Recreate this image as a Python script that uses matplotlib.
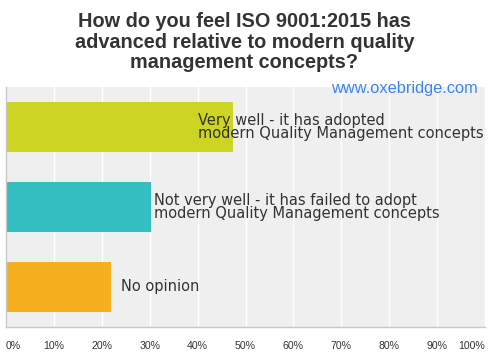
import matplotlib.pyplot as plt
import numpy as np

# Survey answers (top to bottom) and their share of responses (%)
answers = [
    'Very well - it has adopted\nmodern Quality Management concepts',
    'Not very well - it has failed to adopt\nmodern Quality Management concepts',
    'No opinion',
]
shares = [47.4, 30.2, 22.0]
colors = ['#cdd424', '#35bec1', '#f5ae1e']
tick_values = [0, 10, 20, 30, 40, 50, 60, 70, 80, 90, 100]
tick_labels = [f'{v}%' for v in tick_values]

title = ('How do you feel ISO 9001:2015 has\n'
         'advanced relative to modern quality\n'
         'management concepts?')

plt.rcParams['font.family'] = ['Liberation Sans', 'DejaVu Sans']

fig = plt.figure(figsize=(4.89, 3.6), dpi=100, facecolor='white')
ax = fig.add_axes([6 / 489, 1 - 327 / 360, 479 / 489, 240 / 360])
ax.set_facecolor('#efefef')

y = np.arange(len(answers))
ax.barh(y, shares, height=0.625, color=colors, zorder=2)

# label placement (x in data units) - first label sits over the bar
label_x = [40.1, 30.9, 24.0]
for i, (txt, lx) in enumerate(zip(answers, label_x)):
    ax.text(lx, i, txt, ha='left', va='center', fontsize=10.5,
            family='DejaVu Sans', color='#333333', linespacing=0.9,
            zorder=3)

ax.set_xlim(0, 100)
ax.set_ylim(len(answers) - 0.5, -0.5)
ax.set_yticks([])
ax.set_xticks(tick_values)
ax.set_xticklabels(tick_labels, fontsize=7.6, color='#333333')
ticklbls = ax.get_xticklabels()
ticklbls[0].set_ha('left')
ticklbls[-1].set_ha('right')
ax.tick_params(axis='x', length=0, pad=10)

ax.grid(axis='x', color='white', linewidth=1.0, zorder=1)
for s in ['top', 'right']:
    ax.spines[s].set_visible(False)
ax.spines['left'].set_color('#c8c8c8')
ax.spines['bottom'].set_color('#c8c8c8')
ax.spines['left'].set_linewidth(1.0)
ax.spines['bottom'].set_linewidth(1.0)

fig.text(0.5, 1 - 42 / 360, title, ha='center', va='center',
         fontsize=14.3, fontweight='bold', color='#333333', linespacing=1.12)
fig.text(478 / 489, 1 - 88 / 360, 'www.oxebridge.com', ha='right',
         va='center', fontsize=11.8, color='#3a86f0')

fig.savefig('out.png', dpi=100)
